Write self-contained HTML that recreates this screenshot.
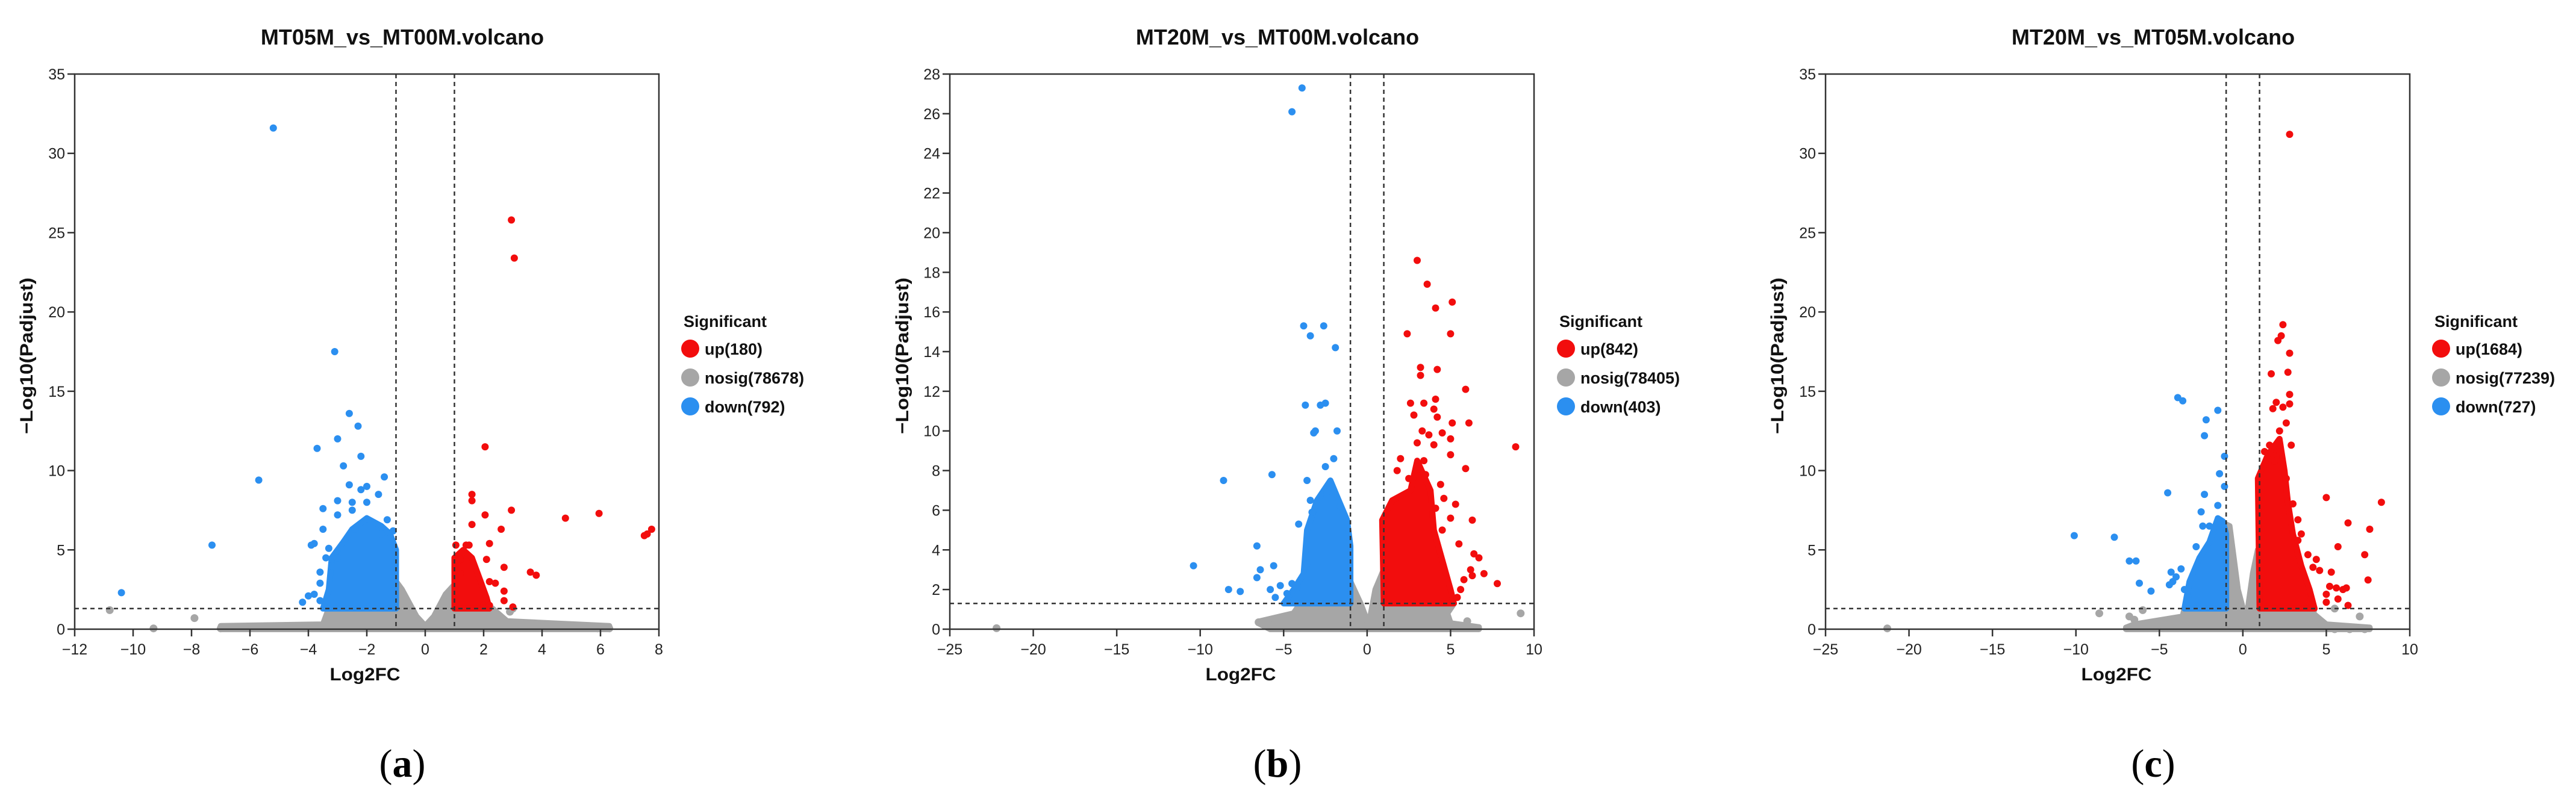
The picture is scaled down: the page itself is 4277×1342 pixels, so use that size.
<!DOCTYPE html>
<html><head><meta charset="utf-8">
<style>
html,body{margin:0;padding:0;background:#fff;}
svg{display:block;}
text{font-family:"Liberation Sans",Arial,sans-serif;}
</style></head>
<body>
<svg id="fig" width="4277" height="1342" viewBox="0 0 4277 1342" xmlns="http://www.w3.org/2000/svg"></svg>
<script>
// ---------- Panel A data ----------
const aTitle = "MT05M_vs_MT00M.volcano";
const aXTicks = [-12,-10,-8,-6,-4,-2,0,2,4,6,8];
const aYTicks = [0,5,10,15,20,25,30,35];
const aLegend = ["up(180)","nosig(78678)","down(792)"];
const aDownPts = [[-5.2,31.6],[-3.1,17.5],[-2.6,13.6],[-2.3,12.8],[-3.0,12.0],[-3.7,11.4],[-2.2,10.9],[-2.8,10.3],[-1.4,9.6],[-5.7,9.4],[-2.6,9.1],[-2.0,9.0],[-2.2,8.8],[-1.6,8.5],[-3.0,8.1],[-2.5,8.0],[-2.0,8.0],[-3.5,7.6],[-3.0,7.2],[-2.5,7.5],[-1.3,6.9],[-3.5,6.3],[-2.4,6.3],[-7.3,5.3],[-3.9,5.3],[-3.8,5.4],[-3.3,5.1],[-3.4,4.5],[-3.6,3.6],[-3.6,2.9],[-3.6,1.8],[-3.8,2.2],[-4.0,2.1],[-4.2,1.7],[-10.4,2.3],[-3.2,4.0],[-3.0,4.5],[-1.5,6.0],[-1.1,6.2]];
const aDownEnv = [[-3.5,1.3],[-3.3,2.5],[-3.2,4.5],[-2.8,5.5],[-2.5,6.3],[-2.0,7.0],[-1.5,6.5],[-1.2,6.0],[-1.0,5.0],[-1.0,1.3]];
const aUpPts = [[2.95,25.8],[3.05,23.4],[2.05,11.5],[1.6,8.5],[1.6,8.1],[2.95,7.5],[2.05,7.2],[4.8,7.0],[5.95,7.3],[1.6,6.6],[2.6,6.3],[7.75,6.3],[7.6,6.0],[7.5,5.9],[1.05,5.3],[1.4,5.3],[1.5,5.3],[2.2,5.4],[1.2,4.4],[2.1,4.4],[2.7,3.9],[3.6,3.6],[3.8,3.4],[1.2,3.5],[2.2,3.0],[2.4,2.9],[2.7,2.4],[2.7,1.8],[2.0,1.5],[2.2,1.5],[3.0,1.4]];
const aUpEnv = [[1.0,1.3],[1.0,4.5],[1.3,5.0],[1.6,4.5],[1.9,3.0],[2.1,2.0],[2.2,1.3]];
const aNsPts = [[-10.8,1.2],[-9.3,0.05],[-7.9,0.7],[3.0,1.3],[2.5,0.5],[2.9,1.1],[-7.0,0.05],[6.3,0.05],[5.9,0.05]];
const aNsEnv = [[-7,0],[-7,0.2],[-3.5,0.3],[-3.3,1.3],[-1,1.3],[-1,3.0],[-0.8,2.5],[-0.3,0.8],[0,0.2],[0.3,0.8],[0.7,2.2],[1,2.8],[1,1.3],[2.3,1.3],[2.8,0.5],[6.3,0.2],[6.3,0]];

// ---------- Panel B data ----------
const bTitle = "MT20M_vs_MT00M.volcano";
const bXTicks = [-25,-20,-15,-10,-5,0,5,10];
const bYTicks = [0,2,4,6,8,10,12,14,16,18,20,22,24,26,28];
const bLegend = ["up(842)","nosig(78405)","down(403)"];
const bDownPts = [[-3.9,27.3],[-4.5,26.1],[-3.8,15.3],[-2.6,15.3],[-3.4,14.8],[-1.9,14.2],[-3.7,11.3],[-2.8,11.3],[-2.5,11.4],[-3.1,10.0],[-3.2,9.9],[-1.8,10.0],[-2.0,8.6],[-5.7,7.8],[-8.6,7.5],[-2.5,8.2],[-3.6,7.5],[-4.1,5.3],[-6.6,4.2],[-10.4,3.2],[-6.4,3.0],[-5.6,3.2],[-6.6,2.6],[-8.3,2.0],[-7.6,1.9],[-5.8,2.0],[-5.2,2.2],[-4.5,2.3],[-5.5,1.6],[-3.6,3.3],[-3.4,6.5],[-2.4,6.9],[-3.3,5.9],[-2.2,7.2],[-1.6,6.2],[-4.8,1.8],[-4.2,2.1]];
const bDownEnv = [[-5.0,1.3],[-4.4,2.0],[-3.8,2.8],[-3.6,5.0],[-3.0,6.5],[-2.2,7.5],[-1.7,6.5],[-1.2,5.5],[-1.0,4.2],[-1.0,1.3]];
const bUpPts = [[3.0,18.6],[3.6,17.4],[5.1,16.5],[4.1,16.2],[2.4,14.9],[5.0,14.9],[3.2,13.2],[3.2,12.8],[4.2,13.1],[5.9,12.1],[2.6,11.4],[3.4,11.4],[4.1,11.6],[4.0,11.1],[2.8,10.8],[4.2,10.7],[5.1,10.4],[6.1,10.4],[3.3,10.0],[4.5,9.9],[3.7,9.8],[5.0,9.6],[8.9,9.2],[3.0,9.4],[4.0,9.3],[5.0,8.8],[3.4,8.5],[5.9,8.1],[4.4,7.3],[5.0,5.6],[5.3,6.3],[4.5,5.0],[6.3,5.5],[5.5,4.3],[6.4,3.8],[6.7,3.6],[7.8,2.3],[7.0,2.8],[6.2,3.0],[5.8,2.5],[6.3,2.7],[5.6,2.0],[5.4,1.6],[2.0,8.6],[1.8,8.0],[2.5,7.6],[3.5,7.8],[4.6,6.6],[4.1,6.1]];
const bUpEnv = [[1.0,1.3],[0.9,5.5],[1.5,6.5],[2.6,7.0],[3.0,8.5],[3.8,7.0],[4.0,5.0],[4.5,3.5],[5.0,2.0],[5.2,1.3]];
const bNsPts = [[-22.2,0.05],[9.2,0.8],[-6.5,0.35],[-4.1,1.0],[5.5,0.1],[6.0,0.4],[6.6,0.05]];
const bNsEnv = [[-6.5,0.3],[-5.8,0],[6.7,0],[6.7,0.1],[5.0,0.3],[4.8,0.8],[5.2,1.3],[1,1.3],[1,3.0],[0.5,2.0],[0.1,0.2],[-0.4,1.3],[-1,2.4],[-1,1.3],[-4,1.3],[-4.4,0.8],[-6.4,0.4]];

// ---------- Panel C data ----------
const cTitle = "MT20M_vs_MT05M.volcano";
const cXTicks = [-25,-20,-15,-10,-5,0,5,10];
const cYTicks = [0,5,10,15,20,25,30,35];
const cLegend = ["up(1684)","nosig(77239)","down(727)"];
const cDownPts = [[-3.9,14.6],[-3.6,14.4],[-1.5,13.8],[-2.2,13.2],[-2.3,12.2],[-1.1,10.9],[-1.4,9.8],[-1.1,9.0],[-4.5,8.6],[-2.3,8.5],[-2.5,7.4],[-1.5,7.8],[-10.1,5.9],[-7.7,5.8],[-6.8,4.3],[-6.4,4.3],[-6.2,2.9],[-5.5,2.4],[-4.3,3.6],[-4.2,3.0],[-4.4,2.8],[-3.7,3.8],[-2.8,5.2],[-2.4,6.5],[-2.0,6.5],[-3.5,2.5],[-4.0,3.3],[-3.3,2.0]];
const cDownEnv = [[-3.5,1.3],[-3.2,3.0],[-2.6,4.5],[-2.0,5.5],[-1.5,7.0],[-1.2,6.8],[-1.0,6.0],[-1.0,1.3]];
const cUpPts = [[2.8,31.2],[2.4,19.2],[2.3,18.5],[2.1,18.2],[2.8,17.4],[1.7,16.1],[2.7,16.2],[2.8,14.8],[2.8,14.2],[2.0,14.3],[2.4,14.0],[1.8,13.9],[2.6,13.0],[2.2,12.5],[1.6,11.6],[2.9,11.6],[1.3,11.2],[2.2,11.2],[5.0,8.3],[8.3,8.0],[3.0,7.9],[3.3,6.9],[6.3,6.7],[7.6,6.3],[3.5,6.0],[3.3,5.6],[5.7,5.2],[3.9,4.7],[7.3,4.7],[4.4,4.4],[4.2,3.9],[4.6,3.7],[5.3,3.6],[7.5,3.1],[5.2,2.7],[5.6,2.6],[6.0,2.5],[6.2,2.6],[5.0,2.2],[5.7,1.9],[6.3,1.5],[5.0,1.7],[1.2,10.2],[1.9,10.6],[2.6,9.5]];
const cUpEnv = [[1.0,1.3],[0.9,9.5],[1.5,11.0],[2.2,12.0],[2.5,10.0],[2.7,8.0],[3.0,6.0],[3.5,4.0],[4.0,2.5],[4.3,1.3]];
const cNsPts = [[-21.3,0.05],[-8.6,1.0],[-6.8,0.8],[-6.5,0.6],[-6.0,1.2],[7.0,0.8],[5.5,1.3],[5.5,0.0],[6.4,0.0],[7.3,0.0]];
const cNsEnv = [[-7,0],[7.6,0],[7.6,0.1],[5.0,0.3],[4.2,1.0],[4.3,1.3],[1,1.3],[0.9,5.0],[0.6,3.5],[0.2,0.5],[-0.3,2.5],[-0.8,6.5],[-1,6.6],[-1,1.3],[-3.5,1.3],[-3.6,0.8],[-6.5,0.3],[-7,0.1]];

const NS = "http://www.w3.org/2000/svg";
const svg = document.getElementById('fig');
const RED = "#f20d0d", GRAY = "#a6a6a6", BLUE = "#2b8ff0";

function mk(tag, attrs, parent) {
  const e = document.createElementNS(NS, tag);
  for (const k in attrs) e.setAttribute(k, attrs[k]);
  (parent || svg).appendChild(e);
  return e;
}

function panel(cfg) {
  const g = mk('g', {});
  
  
  const L = cfg.left, R = cfg.left + 970, T = 123, B = 1045;
  const sx = v => L + (v - cfg.xmin) / (cfg.xmax - cfg.xmin) * (R - L);
  const sy = v => B - v / cfg.ymax * (B - T);

  // title
  const t = mk('text', {x: cfg.tcx, y: 74, 'text-anchor': 'middle', 'font-size': 36, 'font-weight': 'bold', fill: '#111'}, g);
  t.textContent = cfg.title;
  
  

  // series envelopes + points
  function series(env, pts, col, name, r) {
    const sg = mk('g', {}, g);
    
    
    const d = env.map((p, i) => (i ? 'L' : 'M') + sx(p[0]).toFixed(1) + ',' + sy(p[1]).toFixed(1)).join(' ') + 'Z';
    const pa = mk('path', {d: d, fill: col, stroke: col, 'stroke-width': 10, 'stroke-linejoin': 'round'}, sg);
    
    
    pts.forEach(p => {
      const c = mk('circle', {cx: sx(p[0]).toFixed(1), cy: sy(p[1]).toFixed(1), r: r, fill: col}, sg);
      
      
    });
  }
  series(cfg.nsEnv, cfg.nsPts, GRAY, 'nosig', 6.5);
  series(cfg.downEnv, cfg.downPts, BLUE, 'down', 6);
  series(cfg.upEnv, cfg.upPts, RED, 'up', 6);

  // threshold lines
  [-1, 1].forEach(v => {
    const l = mk('line', {x1: sx(v), x2: sx(v), y1: T, y2: B, stroke: '#333', 'stroke-width': 2.5, 'stroke-dasharray': '7,6'}, g);
    
    
  });
  const hl = mk('line', {x1: L, x2: R, y1: sy(1.3), y2: sy(1.3), stroke: '#333', 'stroke-width': 2.5, 'stroke-dasharray': '7,6'}, g);
  
  

  // frame
  const fr = mk('path', {d: `M${L},${B} L${L},${T} L${R},${T} L${R},${B} Z`, fill: 'none', stroke: '#333', 'stroke-width': 2.5}, g);
  
  

  // y ticks
  cfg.yTicks.forEach(v => {
    const y = sy(v);
    const tl = mk('line', {x1: L - 12, x2: L, y1: y, y2: y, stroke: '#333', 'stroke-width': 2.5}, g);
    
    
    const tx = mk('text', {x: L - 16, y: y + 9, 'text-anchor': 'end', 'font-size': 25, fill: '#222'}, g);
    tx.textContent = v;
    
    
  });
  // x ticks
  cfg.xTicks.forEach(v => {
    const x = sx(v);
    const tl = mk('line', {x1: x, x2: x, y1: B, y2: B + 12, stroke: '#333', 'stroke-width': 2.5}, g);
    
    
    const tx = mk('text', {x: x, y: B + 42, 'text-anchor': 'middle', 'font-size': 25, fill: '#222'}, g);
    tx.textContent = (v < 0 ? '\u2212' + (-v) : v);
    
    
  });
  // axis titles
  const xt = mk('text', {x: cfg.xtx, y: 1130, 'text-anchor': 'middle', 'font-size': 30, 'font-weight': 'bold', fill: '#111', textLength: 117, lengthAdjust: 'spacingAndGlyphs'}, g);
  xt.textContent = 'Log2FC';
  
  
  const yt = mk('text', {x: 0, y: 0, 'text-anchor': 'middle', 'font-size': 30, 'font-weight': 'bold', fill: '#111', textLength: 260, lengthAdjust: 'spacingAndGlyphs', transform: `translate(${cfg.ytx + 10},591) rotate(-90)`}, g);
  yt.textContent = '\u2212Log10(Padjust)';
  
  

  // legend
  const lg = mk('g', {}, g);
  
  
  const lt = mk('text', {x: cfg.legX - 11, y: 543, 'font-size': 27, 'font-weight': 'bold', fill: '#111'}, lg);
  lt.textContent = 'Significant';
  
  
  const cols = [RED, GRAY, BLUE];
  const ys = [579, 627, 675];
  cfg.legend.forEach((s, i) => {
    const c = mk('circle', {cx: cfg.legX, cy: ys[i], r: 15, fill: cols[i]}, lg);
    
    
    const tx = mk('text', {x: cfg.legX + 24, y: ys[i] + 10, 'font-size': 27, 'font-weight': 'bold', fill: '#111'}, lg);
    tx.textContent = s;
    
    
  });
  // caption
  const cp = mk('text', {x: cfg.tcx, y: 1290, 'text-anchor': 'middle', 'font-size': 66, fill: '#000', style: 'font-family:"Liberation Serif",serif'}, g);
  cp.innerHTML = '(<tspan font-weight="bold">' + cfg.letter + '</tspan>)';
  
  
}

panel({id: 'a', left: 124, xmin: -12, xmax: 8, ymax: 35, title: aTitle, xTicks: aXTicks, yTicks: aYTicks, legend: aLegend,
  downPts: aDownPts, downEnv: aDownEnv, upPts: aUpPts, upEnv: aUpEnv, nsPts: aNsPts, nsEnv: aNsEnv,
  tcx: 668, xtx: 606, ytx: 44, legX: 1146, letter: 'a'});
panel({id: 'b', left: 1577, xmin: -25, xmax: 10, ymax: 28, title: bTitle, xTicks: bXTicks, yTicks: bYTicks, legend: bLegend,
  downPts: bDownPts, downEnv: bDownEnv, upPts: bUpPts, upEnv: bUpEnv, nsPts: bNsPts, nsEnv: bNsEnv,
  tcx: 2121, xtx: 2060, ytx: 1498, legX: 2600, letter: 'b'});
panel({id: 'c', left: 3031, xmin: -25, xmax: 10, ymax: 35, title: cTitle, xTicks: cXTicks, yTicks: cYTicks, legend: cLegend,
  downPts: cDownPts, downEnv: cDownEnv, upPts: cUpPts, upEnv: cUpEnv, nsPts: cNsPts, nsEnv: cNsEnv,
  tcx: 3575, xtx: 3514, ytx: 2951, legX: 4053, letter: 'c'});
</script>
</body></html>
